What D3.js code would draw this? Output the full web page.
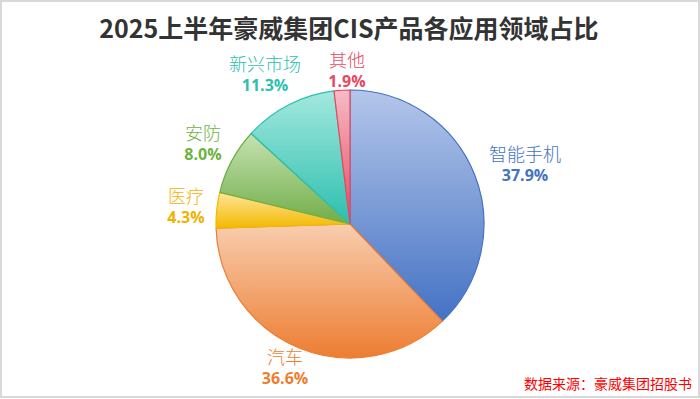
<!DOCTYPE html>
<html><head><meta charset="utf-8">
<script src="https://cdn.jsdelivr.net/npm/d3@7"></script>
<style>html,body{margin:0;padding:0;background:#fff}svg{display:block}</style>
</head><body>
<script>
const categories = ["智能手机","汽车","医疗","安防","新兴市场","其他"];
const values = [37.9, 36.6, 4.3, 8.0, 11.3, 1.9];
const percentLabels = ["37.9%","36.6%","4.3%","8.0%","11.3%","1.9%"];
const titleText = "2025上半年豪威集团CIS产品各应用领域占比";
const sourceText = "数据来源：豪威集团招股书";

const W = 700, H = 399;
const cx = 350, cy = 224, R = 134;
const colorsDark  = ["#4472C4","#ED7D31","#F2B800","#70AD47","#2BBFAE","#E8485F"];
const colorsLight = ["#B4C6EA","#F8CDAF","#FFE69A","#C6E2B3","#A4E8DE","#F4BCC6"];
const labelColors = ["#4472C4","#ED7D31","#F2B200","#6DB33F","#2CC0AE","#E8485F"];
const labelPos = [[525,155],[285,358],[186,197],[203,134],[265,65],[347,61]];

const svg = d3.select("body").append("svg").attr("width",W).attr("height",H);
svg.append("rect").attr("x",1).attr("y",1).attr("width",W-2).attr("height",H-3)
  .attr("fill","#fff").attr("stroke","#D9D9D9").attr("stroke-width",2);

const defs = svg.append("defs");
categories.forEach((c,i)=>{
  const g = defs.append("linearGradient").attr("id","g"+i).attr("x1",0).attr("y1",0).attr("x2",0).attr("y2",1);
  g.append("stop").attr("offset","0%").attr("stop-color",colorsLight[i]);
  g.append("stop").attr("offset","100%").attr("stop-color",colorsDark[i]);
});

svg.append("text").attr("x",349).attr("y",38).attr("text-anchor","middle")
  .attr("font-family","'Noto Sans CJK SC','Noto Sans',sans-serif").attr("font-weight","bold")
  .attr("font-size",25).attr("fill","#333333").text(titleText);

const pie = d3.pie().sort(null).value(d=>d);
const arc = d3.arc().innerRadius(0).outerRadius(R);
const arcs = pie(values);
const gp = svg.append("g").attr("transform",`translate(${cx},${cy})`);
gp.selectAll("path").data(arcs).enter().append("path")
  .attr("d",arc).attr("fill",(d,i)=>`url(#g${i})`)
  .attr("stroke",(d,i)=>colorsDark[i]).attr("stroke-width",1.2).attr("stroke-linejoin","round");

const lg = svg.append("g");
categories.forEach((c,i)=>{
  const [x,y] = labelPos[i];
  lg.append("text").attr("x",x).attr("y",y+6).attr("text-anchor","middle")
    .attr("font-family","'Noto Sans CJK SC',sans-serif").attr("font-weight",300)
    .attr("font-size",18).attr("fill",labelColors[i]).text(c);
  lg.append("text").attr("x",x).attr("y",y+26).attr("text-anchor","middle")
    .attr("font-family","'Open Sans','Noto Sans',sans-serif").attr("font-weight","bold")
    .attr("font-size",16).attr("fill",labelColors[i]).text(percentLabels[i]);
});

svg.append("text").attr("x",692).attr("y",389).attr("text-anchor","end")
  .attr("font-family","'Noto Sans CJK SC',sans-serif").attr("font-size",14)
  .attr("fill","#FF0000").text(sourceText);
</script>
</body></html>
